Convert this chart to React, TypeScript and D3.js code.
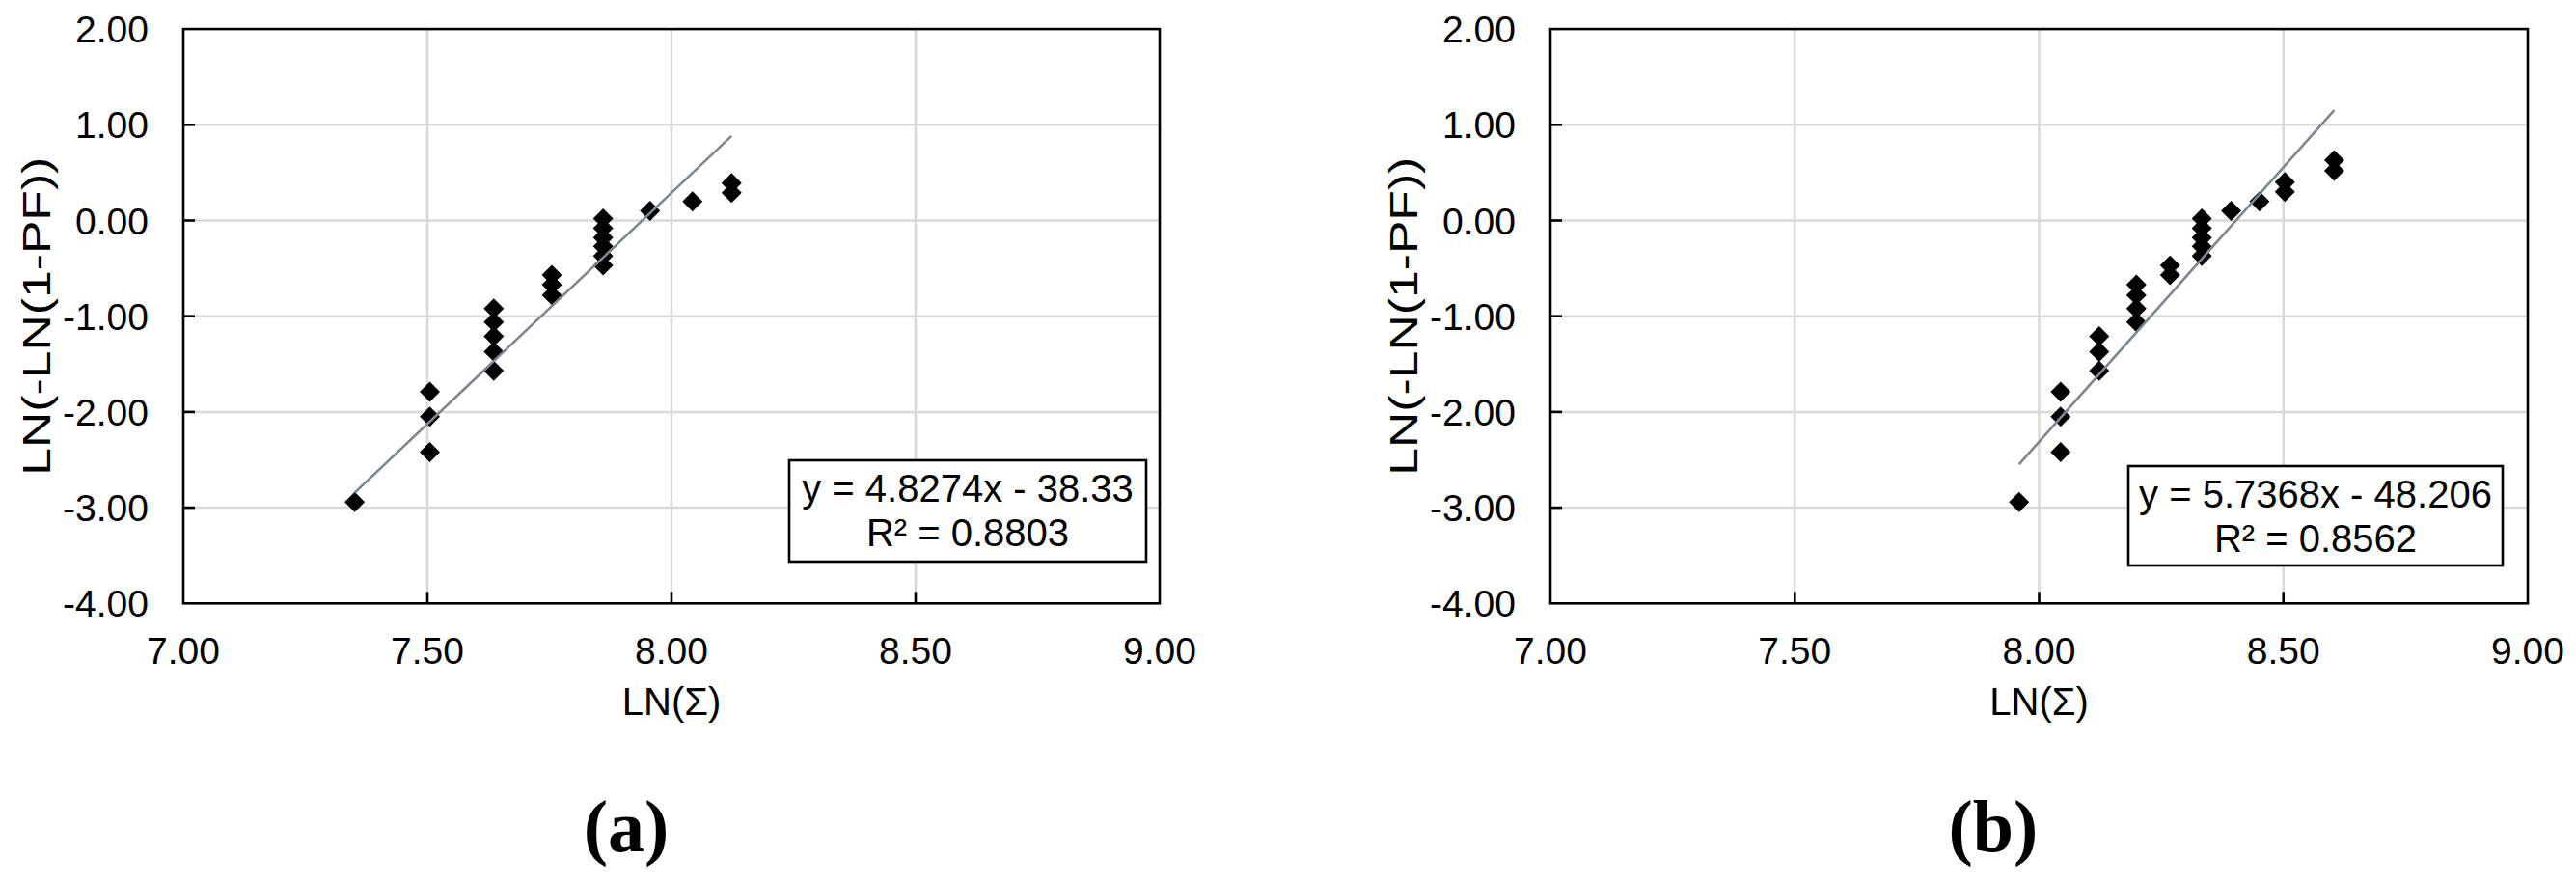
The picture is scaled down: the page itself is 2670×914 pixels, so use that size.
import React from "react";
import * as d3 from "d3";

// axis ticks shared by both panels
const X_TICKS = [7.0, 7.5, 8.0, 8.5, 9.0];
const Y_TICKS = [-4, -3, -2, -1, 0, 1, 2];

// panel (a): LN(Σ) vs LN(-LN(1-PF))
const xA = [7.351, 7.505, 7.505, 7.505, 7.636, 7.636, 7.636, 7.636, 7.636, 7.755, 7.755, 7.755,
  7.86, 7.86, 7.86, 7.86, 7.86, 7.86, 7.956, 8.043, 8.123, 8.123];
const yA = [-2.94, -2.42, -2.05, -1.79, -1.57, -1.37, -1.21, -1.06, -0.92, -0.78, -0.67, -0.57,
  -0.47, -0.37, -0.27, -0.18, -0.08, 0.02, 0.1, 0.2, 0.29, 0.39];
const fitA = [4.8274, -38.33];
const eqA = ["y = 4.8274x - 38.33", "R² = 0.8803"];

// panel (b)
const xB = [7.959, 8.044, 8.044, 8.044, 8.123, 8.123, 8.123, 8.199, 8.199, 8.199, 8.199, 8.268, 8.268,
  8.333, 8.333, 8.333, 8.333, 8.333, 8.393, 8.451, 8.503, 8.503, 8.604, 8.604];
const yB = [-2.94, -2.42, -2.05, -1.79, -1.57, -1.37, -1.21, -1.06, -0.92, -0.78, -0.67, -0.57, -0.47,
  -0.37, -0.27, -0.18, -0.08, 0.02, 0.1, 0.2, 0.3, 0.4, 0.52, 0.63];
const fitB = [5.7368, -48.206];
const eqB = ["y = 5.7368x - 48.206", "R² = 0.8562"];

const FONT = "'Liberation Sans', Arial, sans-serif";
const TOP = 30.1;
const BOTTOM = 625.3;

const diamond = d3.symbol(d3.symbolSquare, 220)();

function Panel({ left, right, xs, ys, fit, eq, box, caption }) {
  const x = d3.scaleLinear().domain([7, 9]).range([left, right]);
  const y = d3.scaleLinear().domain([-4, 2]).range([BOTTOM, TOP]);
  const pts = xs.map((v, i) => ({ x: v, y: ys[i] }));
  const [x0, x1] = d3.extent(xs);
  const line = d3.line<number>().x(d => x(d)).y(d => y(fit[0] * d + fit[1]));
  const cx = (left + right) / 2;

  return (
    <g>
      {/* grid */}
      {X_TICKS.slice(1, -1).map(t => (
        <line key={"gx" + t} x1={x(t)} x2={x(t)} y1={TOP} y2={BOTTOM} stroke="#d9d9d9" strokeWidth={2.5} />
      ))}
      {Y_TICKS.slice(1, -1).map(t => (
        <line key={"gy" + t} x1={left} x2={right} y1={y(t)} y2={y(t)} stroke="#d9d9d9" strokeWidth={2.5} />
      ))}

      {/* points */}
      {pts.map((p, i) => (
        <path key={i} d={diamond} transform={`translate(${x(p.x)},${y(p.y)}) rotate(45)`} fill="#000" />
      ))}

      {/* trendline */}
      <path d={line([x0, x1])} stroke="#7d8793" strokeWidth={2.6} fill="none" />

      {/* frame + inner ticks */}
      <rect x={left} y={TOP} width={right - left} height={BOTTOM - TOP} fill="none" stroke="#000" strokeWidth={2.6} />
      {X_TICKS.slice(1, -1).map(t => (
        <line key={"tx" + t} x1={x(t)} x2={x(t)} y1={BOTTOM} y2={BOTTOM - 12} stroke="#000" strokeWidth={2.6} />
      ))}
      {Y_TICKS.slice(1, -1).map(t => (
        <line key={"ty" + t} x1={left} x2={left + 12} y1={y(t)} y2={y(t)} stroke="#000" strokeWidth={2.6} />
      ))}

      {/* tick labels */}
      {Y_TICKS.map(t => (
        <text key={"ly" + t} x={left - 36} y={y(t) + 14} textAnchor="end" fontSize={39} fontFamily={FONT}>
          {t.toFixed(2)}
        </text>
      ))}
      {X_TICKS.map(t => (
        <text key={"lx" + t} x={x(t)} y={688} textAnchor="middle" fontSize={39} fontFamily={FONT}>
          {t.toFixed(2)}
        </text>
      ))}

      {/* axis titles */}
      <text x={cx} y={741} textAnchor="middle" fontSize={40} fontFamily={FONT}>LN(Σ)</text>
      <text
        transform={`translate(${left - 152},${(TOP + BOTTOM) / 2}) rotate(-90)`}
        textAnchor="middle"
        dominantBaseline="central"
        fontSize={40}
        fontFamily={FONT}
        textLength={330}
        lengthAdjust="spacingAndGlyphs"
      >
        LN(-LN(1-PF))
      </text>

      {/* equation box */}
      <rect x={box.x} y={box.y} width={box.w} height={box.h} fill="#fff" stroke="#000" strokeWidth={2.6} />
      <text x={box.x + box.w / 2} y={box.y + 43} textAnchor="middle" fontSize={40} fontFamily={FONT}>{eq[0]}</text>
      <text x={box.x + box.w / 2} y={box.y + 89} textAnchor="middle" fontSize={40} fontFamily={FONT}>{eq[1]}</text>

      {/* caption */}
      <text x={left + 459} y={882} textAnchor="middle" fontSize={76} fontWeight="bold"
        fontFamily="'Liberation Serif', 'Times New Roman', serif">
        {caption}
      </text>
    </g>
  );
}

export default function App() {
  return (
    <svg width={2670} height={914} style={{ position: "absolute", left: 0, top: 0, background: "#fff" }}>
      <rect width={2670} height={914} fill="#fff" />
      <Panel left={190} right={1202} xs={xA} ys={yA} fit={fitA} eq={eqA}
        box={{ x: 818, y: 477, w: 370, h: 105 }} caption="(a)" />
      <Panel left={1607} right={2620} xs={xB} ys={yB} fit={fitB} eq={eqB}
        box={{ x: 2206, y: 483, w: 388, h: 103 }} caption="(b)" />
    </svg>
  );
}
